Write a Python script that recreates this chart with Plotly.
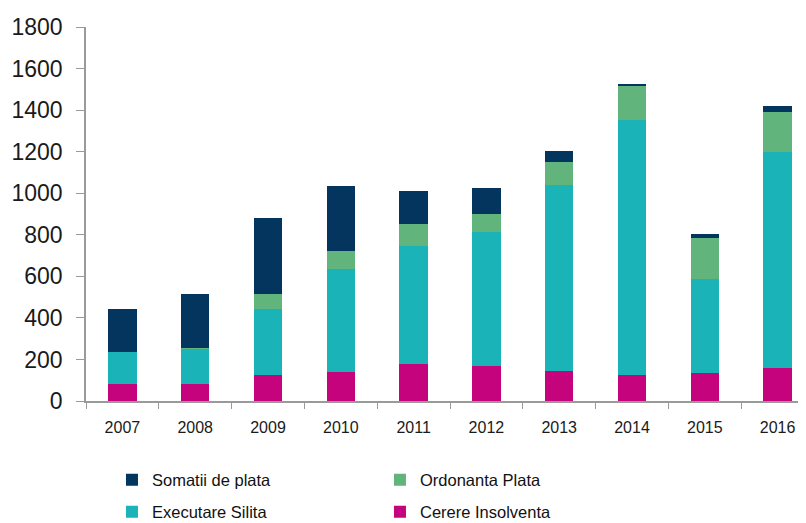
import plotly.graph_objects as go

years = ['2007', '2008', '2009', '2010', '2011', '2012', '2013', '2014', '2015', '2016']

# stacked from the bottom up
cerere_insolventa = [80, 80, 124, 141, 176, 168, 143, 124, 133, 159]
executare_silita = [157, 173, 320, 495, 572, 643, 895, 1227, 452, 1041]
ordonanta_plata = [0, 3, 70, 88, 106, 87, 113, 163, 199, 193]
somatii_de_plata = [207, 261, 366, 311, 156, 129, 52, 10, 19, 28]

y_ticks = [0, 200, 400, 600, 800, 1000, 1200, 1400, 1600, 1800]

colors = {
    'Somatii de plata': '#03355E',
    'Ordonanta Plata': '#62B47D',
    'Executare Silita': '#1AB3B8',
    'Cerere Insolventa': '#C4037D',
}

fig = go.Figure()

# bottom to top; two legends give the two rows of the original legend
series = [
    ('Cerere Insolventa', cerere_insolventa, 'legend2', 2),
    ('Executare Silita', executare_silita, 'legend2', 1),
    ('Ordonanta Plata', ordonanta_plata, 'legend', 2),
    ('Somatii de plata', somatii_de_plata, 'legend', 1),
]
for name, vals, leg, rank in series:
    fig.add_trace(
        go.Bar(
            x = years,
            y = vals,
            name = name,
            marker = {'color': colors[name], 'line': {'width': 0}},
            legend = leg,
            legendrank = rank,
        )
    )

legend_style = dict(
    orientation = 'h',
    xref = 'container',
    yref = 'container',
    x = 0.129,
    xanchor = 'left',
    yanchor = 'middle',
    entrywidth = 223,
    entrywidthmode = 'pixels',
    traceorder = 'normal',
    font = dict(family = 'Liberation Sans, Arial, sans-serif', size = 16.5, color = '#111111'),
    itemwidth = 30,
    bgcolor = 'rgba(0,0,0,0)',
)

fig.update_layout(
    barmode = 'stack',
    bargap = 0.61,
    width = 806,
    height = 523,
    margin = dict(l = 78, r = 0, t = 19, b = 130),
    plot_bgcolor = 'white',
    paper_bgcolor = 'white',
    font = dict(family = 'Liberation Sans, Arial, sans-serif', color = '#1a1a1a'),
    showlegend = True,
    legend = dict(legend_style, y = 0.0975),
    legend2 = dict(legend_style, y = 0.0363),
)

fig.update_yaxes(
    range = [0, 1800],
    tickvals = y_ticks,
    automargin = False,
    showgrid = False,
    zeroline = False,
    showline = True,
    linecolor = '#9a9a9a',
    linewidth = 1.5,
    ticks = 'outside',
    ticklen = 8,
    tickcolor = '#9a9a9a',
    ticklabelstandoff = 9,
    tickfont = dict(size = 23, color = '#1a1a1a'),
)

fig.update_xaxes(
    automargin = False,
    showgrid = False,
    showline = True,
    linecolor = '#9a9a9a',
    linewidth = 1.5,
    ticks = 'outside',
    tickson = 'boundaries',
    ticklen = 6,
    tickcolor = '#9a9a9a',
    ticklabelstandoff = 11,
    tickfont = dict(size = 16, color = '#1a1a1a'),
)

fig.write_html("out.html")
